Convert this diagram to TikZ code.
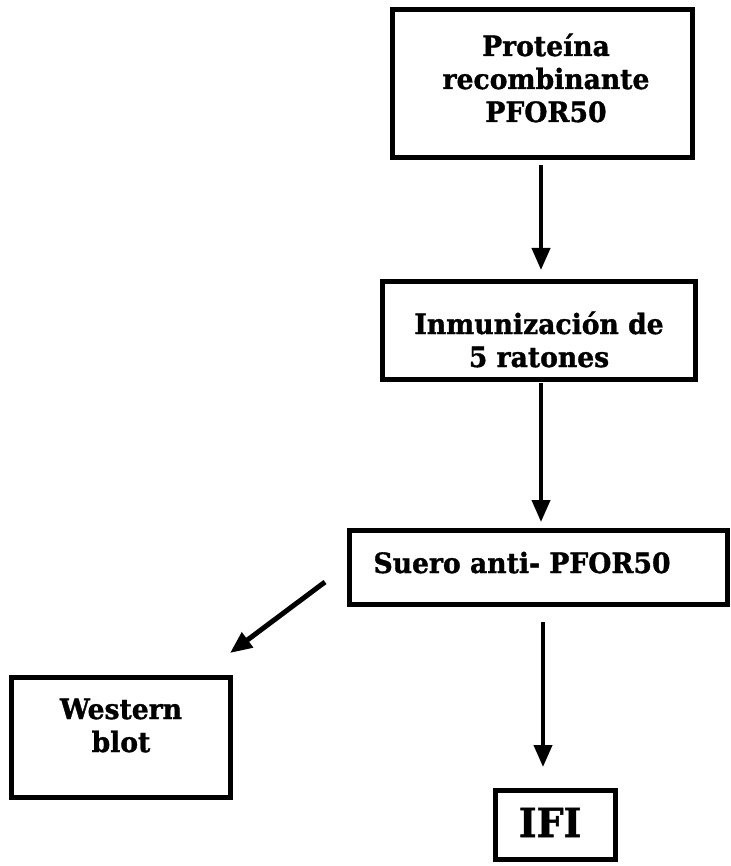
\documentclass[tikz,border=0pt]{standalone}
\usepackage{fontspec}
\setmainfont{DejaVu Serif}[FakeStretch=0.95,FakeBold=1.2]
\usetikzlibrary{arrows.meta}
\begin{document}
\begin{tikzpicture}[x=1pt,y=-1pt,
  box/.style={draw, line width=5pt, rectangle, inner sep=0pt, text depth=0pt,
    font=\bfseries\fontsize{28}{33}\selectfont},
  arr/.style={line width=4pt, -{Triangle[length=22pt,width=18pt]}}]
\useasboundingbox (0,0) rectangle (730,866);

\node[box, minimum width=300pt, minimum height=148pt, text height=77pt] (b1) at (542.5,83.5)
  {\hspace*{7pt}\begin{tabular}[b]{@{}c@{}}Proteína\\recombinante\\PFOR50\end{tabular}};
\node[box, minimum width=313pt, minimum height=98pt, text height=73pt] (b2) at (539,330.5)
  {\begin{tabular}[b]{@{}c@{}}Inmunización de\\5 ratones\end{tabular}};
\node[box, minimum width=378pt, minimum height=74pt, text height=11pt,
  text width=330pt, align=left, inner xsep=24pt] (b3) at (538.5,567.5)
  {Suero anti- PFOR50};
\node[box, minimum width=219pt, minimum height=120pt, text height=29pt] (b4) at (121,737.5)
  {\begin{tabular}[b]{@{}c@{}}Western\\blot\end{tabular}};
\node[box, minimum width=120pt, minimum height=69pt, text height=24pt,
  font=\bfseries\fontsize{40}{44}\selectfont] (b5) at (555.5,825)
  {\hspace*{-11pt}IFI};

\coordinate (x1) at (541,0);
\coordinate (x3) at (543,0);
\coordinate (d1) at (325,582);
\coordinate (d2) at (230,653);

\draw[arr, shorten <=5pt, shorten >=9pt] (b1.south -| x1) -- (b2.north -| x1);
\draw[arr, shorten <=1pt, shorten >=6pt] (b2.south -| x1) -- (b3.north -| x1);
\draw[arr, shorten <=15pt, shorten >=21pt] (b3.south -| x3) -- (b5.north -| x3);
\draw[arr, line width=5pt] (d1) -- (d2);
\end{tikzpicture}
\end{document}
